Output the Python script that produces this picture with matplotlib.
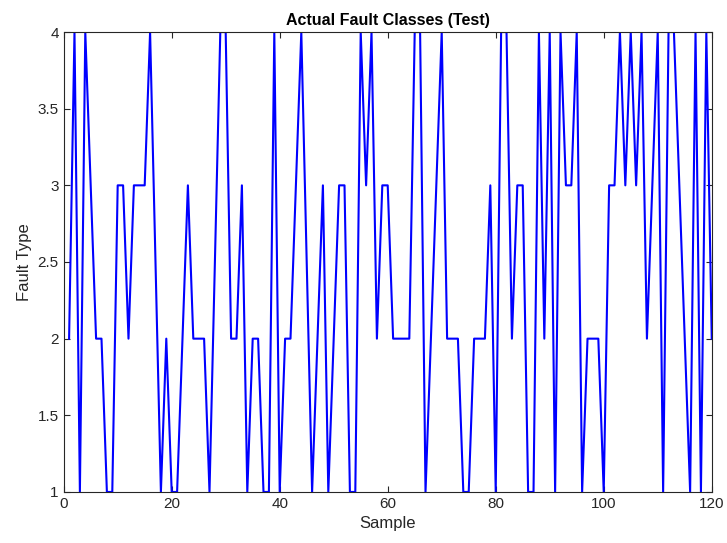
import numpy as np
import matplotlib.pyplot as plt

plt.rcParams["font.family"] = ["Liberation Sans", "DejaVu Sans"]

# Actual fault class per test sample
samples = np.arange(1, 121)
fault_type = [
    2, 4, 1, 4, 3, 2, 2, 1, 1, 3,
    3, 2, 3, 3, 3, 4, 2.5, 1, 2, 1,
    1, 2, 3, 2, 2, 2, 1, 2.5, 4, 4,
    2, 2, 3, 1, 2, 2, 1, 1, 4, 1,
    2, 2, 3, 4, 2.5, 1, 2, 3, 1, 2,
    3, 3, 1, 1, 4, 3, 4, 2, 3, 3,
    2, 2, 2, 2, 4, 4, 1, 2, 3, 4,
    2, 2, 2, 1, 1, 2, 2, 2, 3, 1,
    4, 4, 2, 3, 3, 1, 1, 4, 2, 4,
    1, 4, 3, 3, 4, 1, 2, 2, 2, 1,
    3, 3, 4, 3, 4, 3, 4, 2, 3, 4,
    1, 4, 4, 3, 2, 1, 4, 1, 4, 2,
]

fig = plt.figure(figsize=(7.27, 5.43), dpi=100)
ax = fig.add_axes([0.0876, 0.094, 0.8914, 0.847])

ax.plot(samples, fault_type, color="#0000ff", linewidth=1.5)

ax.set_xlim(0, 120)
ax.set_ylim(1, 4)
ax.set_xticks(np.arange(0, 121, 20))
ax.set_yticks(np.arange(1, 4.01, 0.5))
ax.set_yticklabels(["1", "1.5", "2", "2.5", "3", "3.5", "4"])

ax.tick_params(direction="in", top=True, right=True, length=4,
               colors="#262626", labelsize=11)
for sp in ax.spines.values():
    sp.set_color("#262626")
    sp.set_linewidth(0.8)

ax.set_xlabel("Sample", fontsize=12, color="#262626")
ax.set_ylabel("Fault Type", fontsize=12, color="#262626")
ax.set_title("Actual Fault Classes (Test)", fontsize=11.5, fontweight="bold",
             pad=5)

fig.savefig("out.png", dpi=100)
